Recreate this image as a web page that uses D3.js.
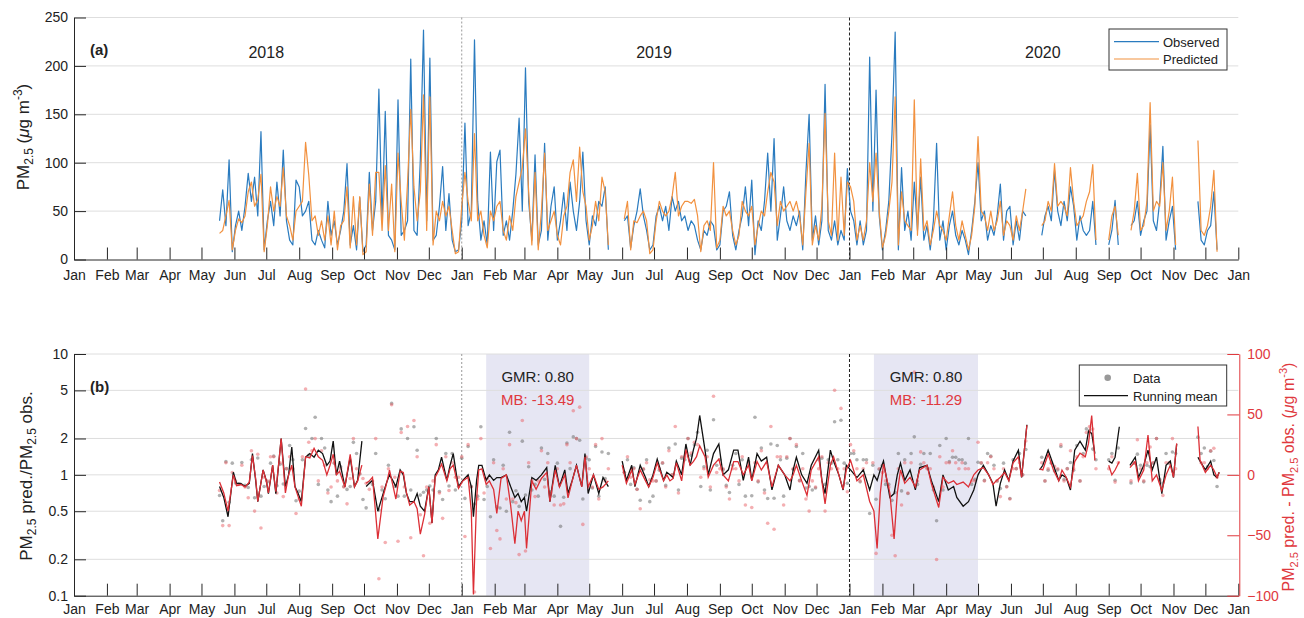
<!DOCTYPE html>
<html>
<head>
<meta charset="utf-8">
<script src="https://cdn.jsdelivr.net/npm/d3@7/dist/d3.min.js"></script>
<style>
  body { margin: 0; background: #fff; }
  text { font-family: "Liberation Sans", Arial, Helvetica, sans-serif; }
</style>
</head>
<body>
<script>
// daily PM2.5, one sample every 3 days from 18 May 2018 (null = no data)
const firstDay = "2018-05-18";
const stepDays = 3;

const observed = [
  40,72,35,103,8,35,50,30,55,89,
  60,85,45,132,10,40,60,35,80,45,
  113,40,20,15,82,75,45,50,60,20,
  15,30,20,12,60,25,40,15,30,50,
  99,15,35,10,64,8,15,90,30,60,
  176,40,153,25,20,10,165,25,30,40,
  207,30,25,103,237,40,208,20,25,55,
  96,30,68,20,8,10,40,141,35,50,
  227,60,20,40,15,111,30,101,113,25,
  40,20,50,88,146,50,198,60,20,108,
  15,30,120,20,55,75,20,40,69,30,
  80,50,30,60,111,40,15,45,35,60,
  55,75,10,null,null,null,null,40,45,12,
  35,50,73,45,30,10,15,45,55,40,
  55,30,65,50,60,40,45,30,40,35,
  20,10,30,25,40,35,10,15,50,55,
  70,25,10,30,45,75,35,82,5,40,
  30,60,110,50,125,20,45,75,40,30,
  45,35,50,10,90,150,20,45,15,40,
  181,30,20,40,15,30,20,94,50,40,
  15,40,15,30,209,50,175,45,10,30,
  60,130,235,10,95,30,50,20,80,30,
  85,20,35,10,40,120,20,40,10,35,
  50,25,15,30,20,5,30,60,100,40,
  50,20,35,25,45,78,20,50,55,15,
  40,20,50,45,null,null,null,null,25,45,
  55,40,92,50,35,60,40,75,55,20,
  45,30,25,30,60,15,null,null,null,15,
  30,61,15,null,null,null,35,40,60,25,
  40,50,139,40,30,60,117,20,40,55,
  10,null,null,null,null,null,null,60,20,15,
  30,35,70,10
];

const predicted = [
  27,30,45,61,10,30,42,38,45,70,
  80,55,62,88,8,35,75,50,65,55,
  95,45,35,20,50,55,60,121,87,40,
  45,25,40,20,45,15,50,10,35,40,
  75,12,65,15,65,5,8,78,25,90,
  90,30,97,30,78,8,110,60,20,80,
  155,75,40,70,170,30,168,15,50,40,
  60,45,55,30,6,8,55,90,60,40,
  130,40,50,25,12,50,40,55,60,30,
  20,45,30,65,80,95,135,70,15,90,
  10,50,110,30,40,50,25,15,45,55,
  90,103,60,116,70,55,20,35,60,40,
  85,70,15,null,null,null,null,42,60,10,
  40,38,45,50,40,6,10,40,60,50,
  45,50,65,90,45,55,60,60,58,62,
  45,8,35,40,30,100,12,20,55,45,
  50,30,15,25,60,50,45,55,15,35,
  50,45,70,90,80,35,60,50,55,60,
  50,60,45,15,70,120,15,35,20,55,
  151,40,25,110,20,85,25,80,75,60,
  20,35,20,40,100,60,110,50,12,25,
  50,80,168,15,70,40,35,30,165,25,
  104,30,40,15,30,50,35,30,20,45,
  70,35,20,40,25,10,25,55,127,50,
  45,30,50,30,40,60,25,40,35,20,
  45,30,50,73,null,null,null,null,35,40,
  60,50,99,55,60,55,45,95,60,35,
  40,45,60,70,98,20,null,null,null,20,
  45,55,25,null,null,null,30,50,89,30,
  35,60,162,50,60,55,100,30,50,85,
  15,null,null,null,null,null,null,123,30,25,
  35,55,92,8
];

// running means of panel (b), days counted from 1 Jan 2018
const meanDay = [
  137,141,145,150,153,157,161,165,168,171,
  173,178,181,183,187,190,195,199,202,205,
  208,211,214,218,222,226,230,234,238,241,
  244,247,250,255,260,264,267,271,273,275,
  278,281,286,291,294,297,300,303,307,310,
  313,316,320,323,326,330,334,337,340,343,
  346,351,354,357,360,362,366,371,374,376,
  379,381,384,388,391,395,398,402,407,411,
  415,418,421,424,426,431,435,440,445,448,
  453,457,462,465,469,473,478,481,484,489,
  494,498,503,509,516,520,525,528,533,538,
  541,545,549,555,558,561,564,567,572,576,
  580,583,586,589,594,597,602,607,611,616,
  621,625,630,635,638,643,647,652,657,663,
  669,674,677,680,685,690,694,701,704,707,
  712,715,720,724,727,731,737,743,749,753,
  756,759,762,768,772,775,778,782,787,792,
  796,803,807,814,818,823,828,831,837,842,
  847,851,856,861,865,868,872,876,880,884,
  889,892,897,903,909,912,917,922,927,930,
  934,938,942,947,952,955,958,961,967,974,
  977,980,984,989,994,999,1002,1007,1011,1015,
  1019,1024,1028,1032,1035,1038,1048,1058,1060,1065,
  1070,1073,1076,1078
];

// pred./obs. running mean (left axis)
const meanRatio = [
  0.80,0.65,0.45,1.05,0.85,0.85,0.80,0.85,1.5,0.9,
  0.6,1.1,0.9,0.7,1.2,0.7,2.0,0.8,1.0,1.7,
  0.8,0.7,0.6,1.4,1.5,1.4,1.6,1.5,1.2,1.3,
  1.9,1.0,1.3,0.8,1.4,0.8,0.9,1.9,null,0.8,
  0.85,0.9,0.5,0.7,0.85,1.0,0.9,0.8,1.1,1.0,
  0.7,0.6,0.6,0.7,0.55,0.5,0.8,0.4,1.0,1.1,
  1.4,0.9,1.2,1.5,1.0,0.8,0.9,1.0,0.8,0.45,
  0.9,1.2,1.2,0.9,1.0,0.9,0.95,0.95,1.0,0.8,
  0.65,0.7,0.6,0.65,0.5,0.95,0.9,1.0,1.15,0.6,
  1.2,0.8,1.1,0.7,0.9,1.2,0.8,1.5,0.7,1.0,
  0.7,0.95,0.8,null,1.3,0.9,1.2,0.8,1.2,0.95,
  0.8,1.0,1.35,0.9,1.05,1.0,0.95,1.3,1.0,1.8,
  1.2,1.6,2.0,3.1,1.6,1.0,1.5,1.8,1.0,1.1,
  1.6,1.6,0.9,1.4,0.9,1.5,1.3,1.4,0.75,1.2,
  1.0,0.75,1.1,1.4,1.0,0.85,1.2,1.6,0.9,0.7,
  1.6,1.3,1.0,0.75,1.2,1.1,0.95,1.1,0.75,1.0,
  0.9,1.1,1.3,0.65,0.7,1.0,1.25,0.9,1.1,0.75,
  1.15,1.2,0.9,0.6,1.0,0.75,0.8,0.65,0.55,0.6,
  0.75,1.0,1.2,1.0,0.85,0.55,0.85,1.1,0.9,1.3,
  1.6,0.95,2.6,null,1.1,1.2,1.6,1.2,0.9,1.0,
  0.95,0.75,1.6,1.9,1.6,2.3,2.2,1.5,null,1.3,
  1.25,1.4,2.5,null,1.2,1.4,0.95,1.2,1.6,1.1,
  1.4,0.7,1.2,1.3,0.95,1.8,null,1.4,1.3,1.1,
  1.3,1.0,0.95,1.05
];

// pred. - obs. running mean (right axis)
const meanBias = [
  -6,-15,-30,0,-9,-8,-10,-6,16,-3,
  -22,4,-5,-15,8,-14,30,-15,0,8,
  -10,-18,-26,15,14,22,15,12,0,8,
  17,0,3,-10,17,-10,-5,8,null,-7,
  -5,-2,-53,-18,-8,4,-8,-20,3,2,
  -15,-25,-22,-28,-49,-33,-10,-40,-2,3,
  9,-5,5,8,-3,-11,-5,-2,-30,-99,
  -20,4,5,-8,-5,-12,-32,-3,0,-25,
  -57,-30,-38,-30,-61,-5,-12,-3,2,-22,
  4,-10,0,-19,-5,8,-10,15,-10,0,
  -12,-10,-5,null,8,-7,4,-8,4,-5,
  -10,-2,10,-5,0,-5,-3,10,-5,21,
  8,11,15,24,15,-2,8,13,0,-5,
  11,11,0,8,-5,11,4,11,-10,8,
  0,-5,0,8,-5,-17,4,15,-5,-24,
  8,15,0,-12,4,12,-5,0,-22,-30,
  -61,-15,9,-15,-53,-15,4,-7,-2,-10,
  4,8,-7,-27,-2,-7,-5,-8,-6,-10,
  0,4,6,0,-8,-5,-2,2,-5,10,
  15,-2,41,null,5,4,17,4,-5,4,
  -2,-10,11,18,15,26,49,12,null,8,
  0,4,11,null,6,11,-5,4,33,-5,
  0,-13,0,8,-2,26,null,40,12,2,
  8,4,-2,2
];

const yearLabels = ["2018", "2019", "2020"];
const yearMid = ["2018-07-01", "2019-07-01", "2020-07-01"];
const shadeStart = ["2019-01-24", "2020-01-24"];
const shadeEnd = ["2019-05-01", "2020-05-01"];
const gmrText = ["GMR: 0.80", "GMR: 0.80"];
const mbText = ["MB: -13.49", "MB: -11.29"];
const ticksA = [0, 50, 100, 150, 200, 250];
const ticksRatio = [0.1, 0.2, 0.5, 1, 2, 5, 10];
const ticksBias = [-100, -50, 0, 50, 100];

const blue = "#2a7bbf", orange = "#f2913f", red = "#e0393e", axisCol = "#262626", gridCol = "#dedede";

const parse = d3.timeParse("%Y-%m-%d");
const day0 = new Date(2018, 0, 1);
const start = parse(firstDay);

let svg = d3.select("body").append("svg")
    .attr("width", 1304)
    .attr("height", 618);

const x = d3.scaleTime()
    .domain([day0, new Date(2021, 0, 1)])
    .range([74, 1238.3]);

const yA = d3.scaleLinear().domain([0, 250]).range([259.5, 17.5]);
const yL = d3.scaleLog().domain([0.1, 10]).range([595.7, 354]);
const yR = d3.scaleLinear().domain([-100, 100]).range([595.7, 354]);

let samples = observed.map(function(o, i) {
    return {date: d3.timeDay.offset(start, i * stepDays), obs: o, pred: predicted[i]};
});
let paired = samples.filter(d => d.obs != null && d.pred != null);
let means = meanDay.map(function(d, i) {
    return {date: d3.timeDay.offset(day0, d), r: meanRatio[i], b: meanBias[i]};
});

let defs = svg.append("defs");
defs.append("clipPath").attr("id", "clipB").append("rect")
    .attr("x", 74).attr("y", 354).attr("width", 1238.3 - 74).attr("height", 595.7 - 354);

function xAxis(y0, pad) {
    let g = svg.append("g")
        .attr("transform", `translate(0, ${y0})`)
        .call(d3.axisBottom(x)
            .ticks(d3.timeMonth.every(1))
            .tickFormat(d3.timeFormat("%b"))
            .tickSizeInner(-12).tickSizeOuter(0).tickPadding(pad));
    styleAxis(g, axisCol);
}

function styleAxis(g, col) {
    g.attr("font-size", 14)
     .attr("font-family", '"Liberation Sans", Arial, sans-serif')
     .attr("color", col);
    g.selectAll("text").attr("fill", col === axisCol ? "#222" : col);
}

// ---------- panel (a) ----------
svg.append("g").selectAll("line").data(ticksA.slice(1)).join("line")
    .attr("x1", 74).attr("x2", 1238.3)
    .attr("y1", d => yA(d)).attr("y2", d => yA(d))
    .attr("stroke", gridCol);

svg.append("line")
    .attr("x1", x(parse("2019-01-01"))).attr("x2", x(parse("2019-01-01")))
    .attr("y1", 17.5).attr("y2", 259.5)
    .attr("stroke", "#9a9a9a").attr("stroke-dasharray", "2,2");
svg.append("line")
    .attr("x1", x(parse("2020-01-01"))).attr("x2", x(parse("2020-01-01")))
    .attr("y1", 17.5).attr("y2", 259.5)
    .attr("stroke", "#222").attr("stroke-dasharray", "3,2");

svg.append("path")
    .datum(samples)
    .attr("fill", "none")
    .attr("stroke", blue)
    .attr("stroke-width", 1.2)
    .attr("stroke-linejoin", "round")
    .attr("d", d3.line()
        .defined(d => d.obs != null)
        .x(d => x(d.date))
        .y(d => yA(d.obs)));

svg.append("path")
    .datum(samples)
    .attr("fill", "none")
    .attr("stroke", orange)
    .attr("stroke-width", 1.2)
    .attr("stroke-linejoin", "round")
    .attr("d", d3.line()
        .defined(d => d.pred != null)
        .x(d => x(d.date))
        .y(d => yA(d.pred)));

xAxis(259.5, 11);
let gA = svg.append("g")
    .attr("transform", "translate(74, 0)")
    .call(d3.axisLeft(yA).tickValues(ticksA).tickSizeInner(-12).tickSizeOuter(0).tickPadding(6));
styleAxis(gA, axisCol);

svg.append("text")
    .attr("transform", "translate(29, 137) rotate(-90)")
    .attr("text-anchor", "middle")
    .attr("font-size", 17)
    .attr("fill", "#222")
    .call(function(t) {
        t.append("tspan").text("PM");
        t.append("tspan").attr("font-size", 12).attr("dy", 4).text("2.5");
        t.append("tspan").attr("dy", -4).text(" (");
        t.append("tspan").attr("font-style", "italic").text("\u03bc");
        t.append("tspan").text("g m");
        t.append("tspan").attr("font-size", 12).attr("dy", -7).text("-3");
        t.append("tspan").attr("dy", 7).text(")");
    });

svg.append("text").attr("x", 90).attr("y", 55)
    .attr("font-size", 15).attr("font-weight", "bold").attr("fill", "#222").text("(a)");

svg.append("g").selectAll("text").data(yearLabels).join("text")
    .attr("x", (d, i) => x(parse(yearMid[i])))
    .attr("y", 58)
    .attr("text-anchor", "middle")
    .attr("font-size", 16)
    .attr("fill", "#222")
    .text(d => d);

// legend (a)
let legA = svg.append("g");
legA.append("rect").attr("x", 1109).attr("y", 29).attr("width", 118).attr("height", 41)
    .attr("fill", "#fff").attr("stroke", "#333").attr("stroke-width", 1);
legA.append("line").attr("x1", 1114).attr("x2", 1159).attr("y1", 41.7).attr("y2", 41.7)
    .attr("stroke", blue).attr("stroke-width", 1.2);
legA.append("line").attr("x1", 1114).attr("x2", 1159).attr("y1", 59).attr("y2", 59)
    .attr("stroke", orange).attr("stroke-width", 1.2);
legA.append("text").attr("x", 1163).attr("y", 46.5).attr("font-size", 13).attr("fill", "#222").text("Observed");
legA.append("text").attr("x", 1163).attr("y", 64).attr("font-size", 13).attr("fill", "#222").text("Predicted");

// ---------- panel (b) ----------
svg.append("g").selectAll("rect").data(shadeStart).join("rect")
    .attr("x", d => x(parse(d)))
    .attr("width", (d, i) => x(parse(shadeEnd[i])) - x(parse(d)))
    .attr("y", 354).attr("height", 595.7 - 354)
    .attr("fill", "#e6e6f3");

svg.append("g").selectAll("line").data(ticksRatio.slice(1)).join("line")
    .attr("x1", 74).attr("x2", 1238.3)
    .attr("y1", d => yL(d)).attr("y2", d => yL(d))
    .attr("stroke", gridCol);

svg.append("line")
    .attr("x1", x(parse("2019-01-01"))).attr("x2", x(parse("2019-01-01")))
    .attr("y1", 354).attr("y2", 595.7)
    .attr("stroke", "#9a9a9a").attr("stroke-dasharray", "2,2");
svg.append("line")
    .attr("x1", x(parse("2020-01-01"))).attr("x2", x(parse("2020-01-01")))
    .attr("y1", 354).attr("y2", 595.7)
    .attr("stroke", "#222").attr("stroke-dasharray", "3,2");

let plotB = svg.append("g").attr("clip-path", "url(#clipB)");

plotB.append("g").selectAll("circle").data(paired).join("circle")
    .attr("cx", d => x(d.date))
    .attr("cy", d => yL(d.pred / d.obs))
    .attr("r", 1.8)
    .attr("fill", "#6f6f6f")
    .attr("fill-opacity", 0.55);

plotB.append("g").selectAll("circle").data(paired).join("circle")
    .attr("cx", d => x(d.date))
    .attr("cy", d => yR(d.pred - d.obs))
    .attr("r", 1.8)
    .attr("fill", "#ea5f66")
    .attr("fill-opacity", 0.5);

plotB.append("path")
    .datum(means)
    .attr("fill", "none")
    .attr("stroke", "#111")
    .attr("stroke-width", 1.3)
    .attr("d", d3.line()
        .defined(d => d.r != null)
        .x(d => x(d.date))
        .y(d => yL(d.r)));

plotB.append("path")
    .datum(means)
    .attr("fill", "none")
    .attr("stroke", "#dc2f36")
    .attr("stroke-width", 1.3)
    .attr("d", d3.line()
        .defined(d => d.b != null)
        .x(d => x(d.date))
        .y(d => yR(d.b)));

xAxis(595.7, 8);
let gL = svg.append("g")
    .attr("transform", "translate(74, 0)")
    .call(d3.axisLeft(yL).tickValues(ticksRatio).tickFormat(d => String(d))
        .tickSizeInner(-12).tickSizeOuter(0).tickPadding(6));
styleAxis(gL, axisCol);

let gR = svg.append("g")
    .attr("transform", "translate(1239.3, 0)")
    .call(d3.axisRight(yR).tickValues(ticksBias).tickSizeInner(-12).tickSizeOuter(0).tickPadding(8));
styleAxis(gR, red);

svg.append("text")
    .attr("transform", "translate(32, 476) rotate(-90)")
    .attr("text-anchor", "middle")
    .attr("font-size", 17)
    .attr("fill", "#222")
    .call(function(t) {
        t.append("tspan").text("PM");
        t.append("tspan").attr("font-size", 12).attr("dy", 4).text("2.5");
        t.append("tspan").attr("dy", -4).text(" pred./PM");
        t.append("tspan").attr("font-size", 12).attr("dy", 4).text("2.5");
        t.append("tspan").attr("dy", -4).text(" obs.");
    });

svg.append("text")
    .attr("transform", "translate(1294, 477) rotate(-90)")
    .attr("text-anchor", "middle")
    .attr("font-size", 16)
    .attr("fill", red)
    .call(function(t) {
        t.append("tspan").text("PM");
        t.append("tspan").attr("font-size", 11).attr("dy", 4).text("2.5");
        t.append("tspan").attr("dy", -4).text(" pred. - PM");
        t.append("tspan").attr("font-size", 11).attr("dy", 4).text("2.5");
        t.append("tspan").attr("dy", -4).text(" obs. (");
        t.append("tspan").attr("font-style", "italic").text("\u03bc");
        t.append("tspan").text("g m");
        t.append("tspan").attr("font-size", 11).attr("dy", -7).text("-3");
        t.append("tspan").attr("dy", 7).text(")");
    });

svg.append("text").attr("x", 90).attr("y", 392)
    .attr("font-size", 15).attr("font-weight", "bold").attr("fill", "#222").text("(b)");

let stats = svg.append("g").selectAll("g").data(shadeStart).join("g");
stats.append("text")
    .attr("x", (d, i) => (x(parse(d)) + x(parse(shadeEnd[i]))) / 2)
    .attr("y", 382)
    .attr("text-anchor", "middle").attr("font-size", 15).attr("fill", "#222")
    .text((d, i) => gmrText[i]);
stats.append("text")
    .attr("x", (d, i) => (x(parse(d)) + x(parse(shadeEnd[i]))) / 2)
    .attr("y", 404.5)
    .attr("text-anchor", "middle").attr("font-size", 15).attr("fill", red)
    .text((d, i) => mbText[i]);

// legend (b)
let legB = svg.append("g");
legB.append("rect").attr("x", 1079.3).attr("y", 365).attr("width", 147.4).attr("height", 41)
    .attr("fill", "#fff").attr("stroke", "#333").attr("stroke-width", 1);
legB.append("circle").attr("cx", 1107.7).attr("cy", 377.7).attr("r", 3.3).attr("fill", "#999");
legB.append("line").attr("x1", 1084).attr("x2", 1128).attr("y1", 395.7).attr("y2", 395.7)
    .attr("stroke", "#111").attr("stroke-width", 1.3);
legB.append("text").attr("x", 1133).attr("y", 382.5).attr("font-size", 13).attr("fill", "#222").text("Data");
legB.append("text").attr("x", 1133).attr("y", 400.5).attr("font-size", 13).attr("fill", "#222").text("Running mean");
</script>
</body>
</html>
